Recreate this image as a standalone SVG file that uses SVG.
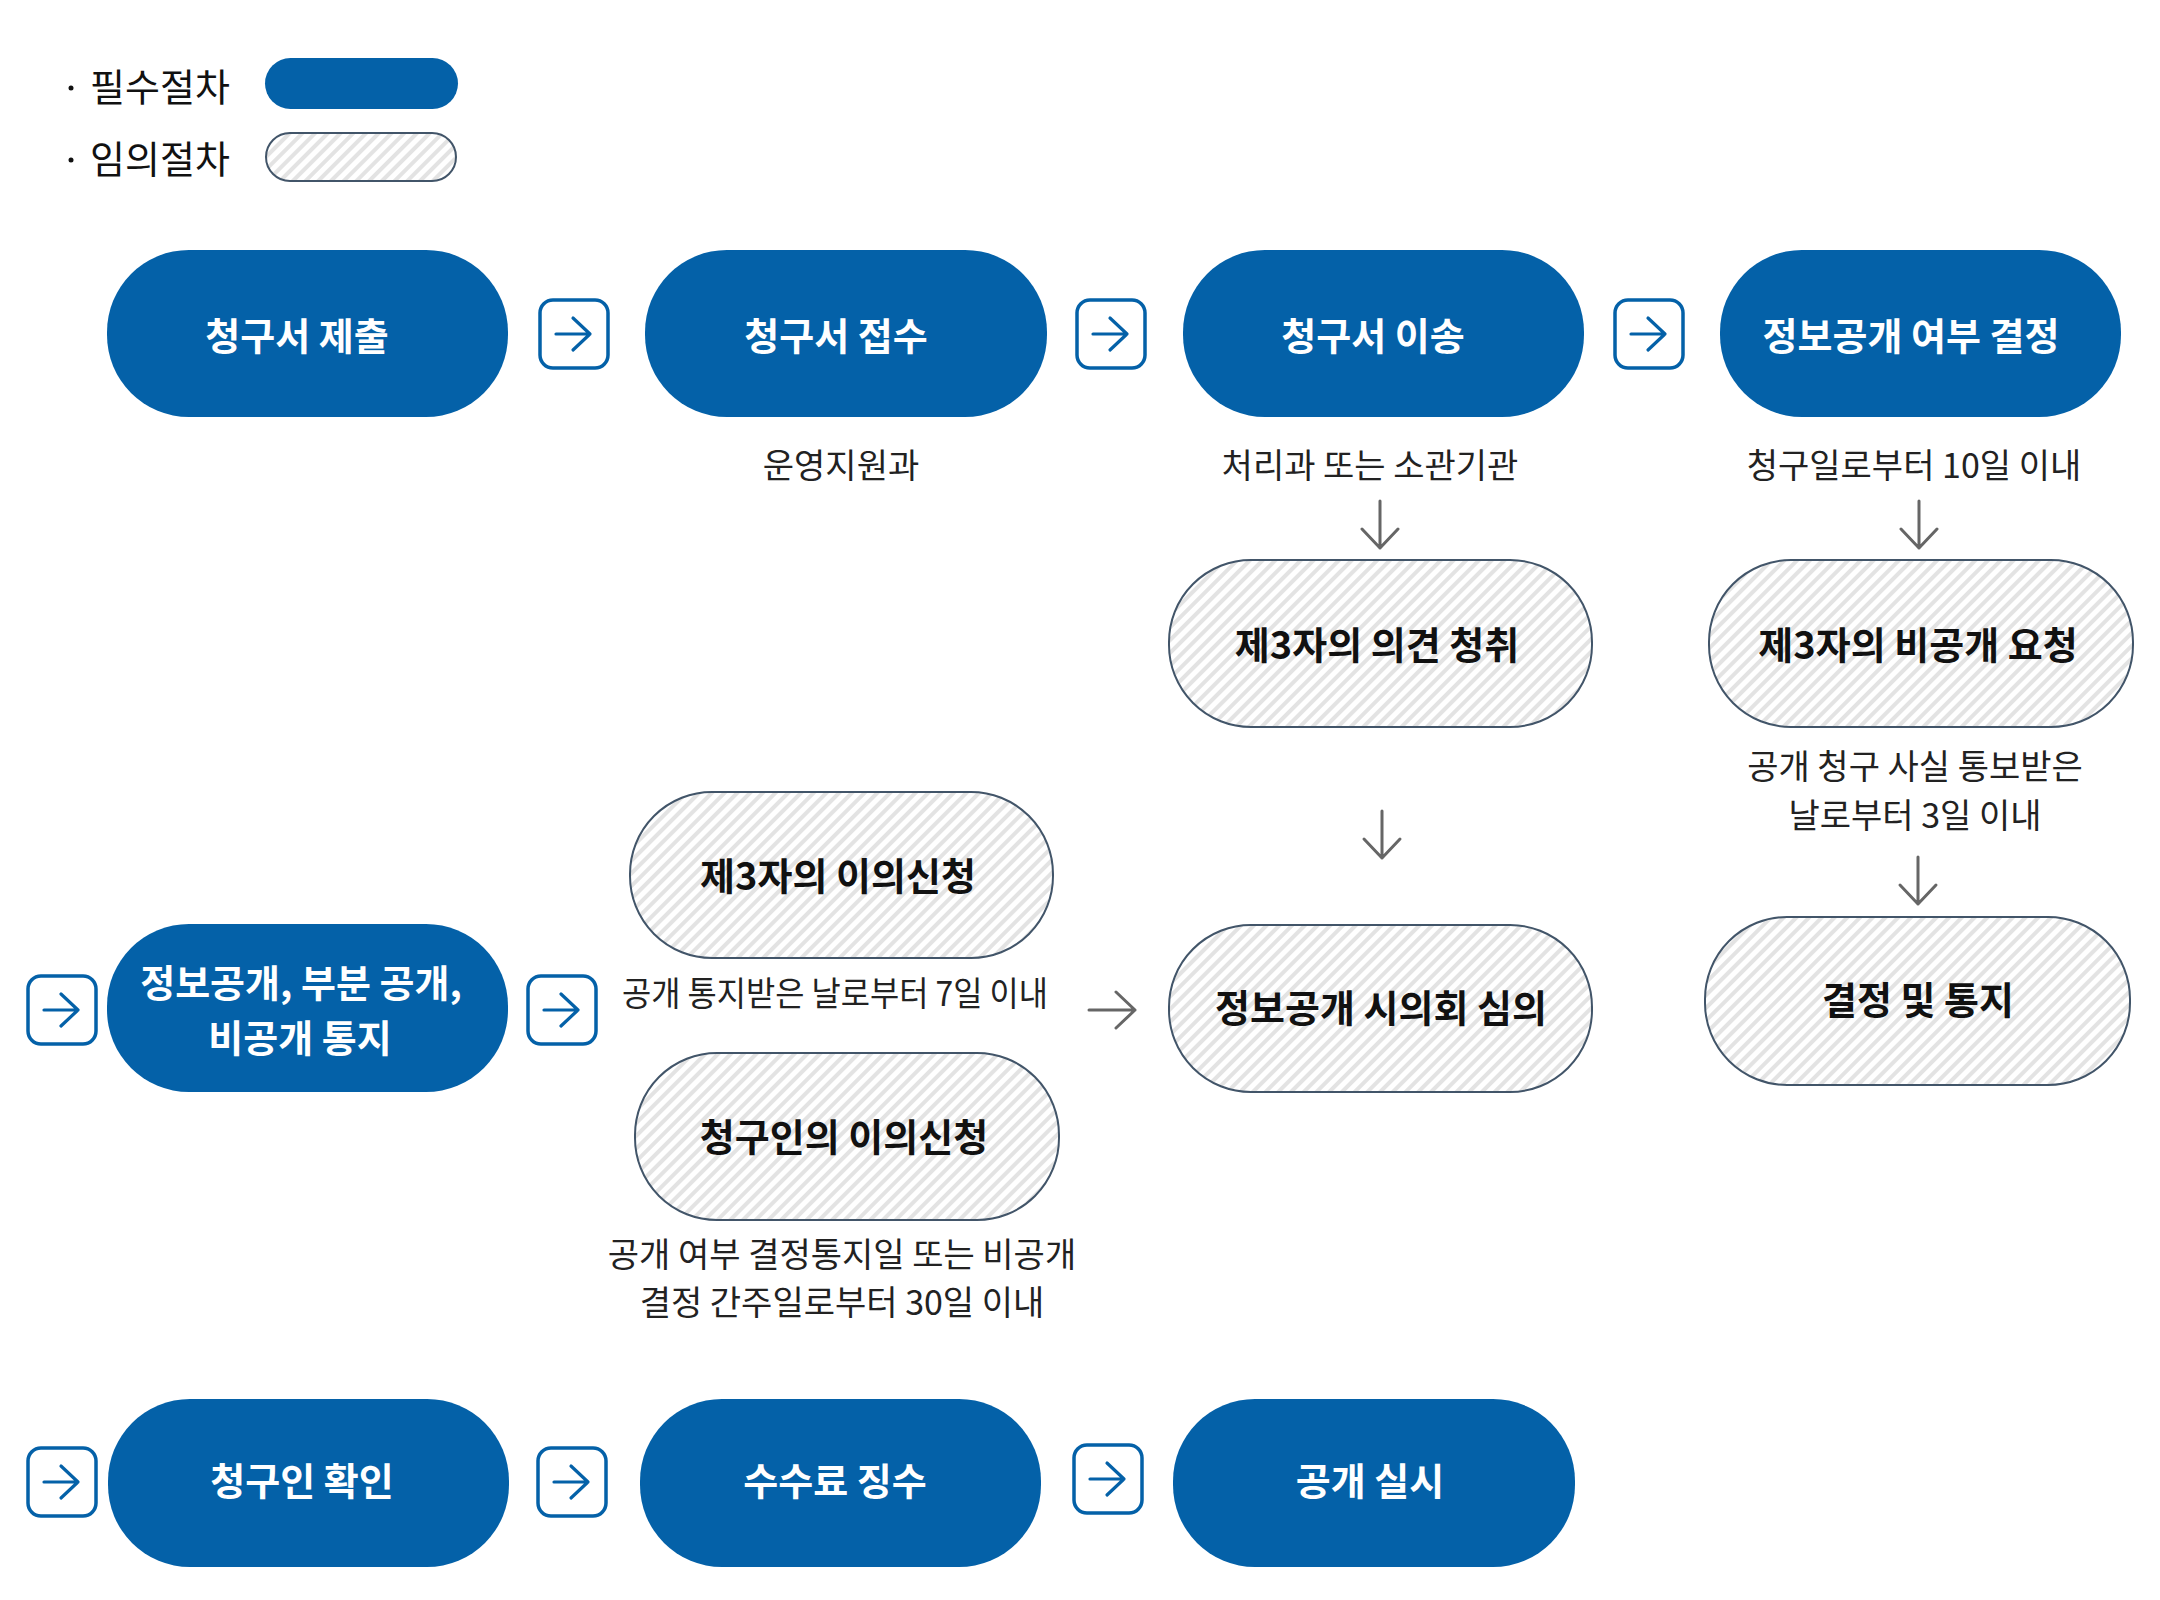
<svg xmlns="http://www.w3.org/2000/svg" width="2160" height="1600" viewBox="0 0 2160 1600">
<defs>
<pattern id="hatch" width="9" height="9" patternUnits="userSpaceOnUse" patternTransform="rotate(45)">
<rect width="9" height="9" fill="#ffffff"/>
<rect width="4" height="9" fill="#e3e3e3"/>
</pattern>
<g id="boxarrow">
<rect x="-34" y="-34" width="68" height="68" rx="13" fill="#fff" stroke="#0461a8" stroke-width="3.5"/>
<path d="M-18 0 H16 M-1 -16 L16 0 L-1 16" fill="none" stroke="#0461a8" stroke-width="3.2" stroke-linecap="round" stroke-linejoin="round"/>
</g>
<g id="down">
<path d="M0 0 V47 M-18 28 L0 47 L18 28" fill="none" stroke="#666" stroke-width="3" stroke-linecap="round" stroke-linejoin="round"/>
</g>
</defs>
<style>
.req{fill:#0461a8}
.opt{fill:url(#hatch);stroke:#425569;stroke-width:2}
.wt{font-family:"Noto Sans CJK KR","Noto Sans",sans-serif;font-weight:700;font-size:38px;fill:#ffffff;text-anchor:middle;dominant-baseline:central}
.bt{font-family:"Noto Sans CJK KR","Noto Sans",sans-serif;font-weight:700;font-size:38px;fill:#111111;text-anchor:middle;dominant-baseline:central}
.lb{font-family:"Noto Sans CJK KR","Noto Sans",sans-serif;font-weight:400;font-size:34px;fill:#222222;text-anchor:middle;dominant-baseline:central}
.lg{font-family:"Noto Sans CJK KR","Noto Sans",sans-serif;font-weight:400;font-size:38px;fill:#111111;dominant-baseline:central}
</style>
<rect width="2160" height="1600" fill="#ffffff"/>

<g id="legend">
<circle cx="71" cy="88" r="2.5" fill="#111"/>
<text class="lg" x="90" y="84">필수절차</text>
<rect class="req" x="265" y="58" width="193" height="51" rx="25.5"/>
<circle cx="71" cy="160" r="2.5" fill="#111"/>
<text class="lg" x="90" y="156">임의절차</text>
<rect class="opt" x="266" y="133" width="190" height="48" rx="24"/>
</g>

<g id="n1"><rect class="req" x="107" y="250" width="401" height="167" rx="82"/><text class="wt" x="297" y="333">청구서 제출</text></g>
<g id="n2"><rect class="req" x="645" y="250" width="402" height="167" rx="82"/><text class="wt" x="836" y="333">청구서 접수</text></g>
<g id="n3"><rect class="req" x="1183" y="250" width="401" height="167" rx="82"/><text class="wt" x="1373" y="333">청구서 이송</text></g>
<g id="n4"><rect class="req" x="1720" y="250" width="401" height="167" rx="82"/><text class="wt" x="1911" y="333">정보공개 여부 결정</text></g>

<g id="h1"><rect class="opt" x="1169" y="560" width="423" height="167" rx="82"/><text class="bt" x="1377" y="642">제3자의 의견 청취</text></g>
<g id="h2"><rect class="opt" x="1709" y="560" width="424" height="167" rx="82"/><text class="bt" x="1918" y="642">제3자의 비공개 요청</text></g>
<g id="h3"><rect class="opt" x="1169" y="925" width="423" height="167" rx="82"/><text class="bt" x="1381" y="1005">정보공개 시의회 심의</text></g>
<g id="h4"><rect class="opt" x="1705" y="917" width="425" height="168" rx="82"/><text class="bt" x="1918" y="997">결정 및 통지</text></g>
<g id="h5"><rect class="opt" x="630" y="792" width="423" height="166" rx="82"/><text class="bt" x="838" y="873">제3자의 이의신청</text></g>
<g id="h6"><rect class="opt" x="635" y="1053" width="424" height="167" rx="82"/><text class="bt" x="844" y="1134">청구인의 이의신청</text></g>

<g id="n5"><rect class="req" x="107" y="924" width="401" height="168" rx="82"/><text class="wt" x="301" y="980">정보공개, 부분 공개,</text><text class="wt" x="300" y="1035">비공개 통지</text></g>

<g id="n6"><rect class="req" x="108" y="1399" width="401" height="168" rx="82"/><text class="wt" x="302" y="1478">청구인 확인</text></g>
<g id="n7"><rect class="req" x="640" y="1399" width="401" height="168" rx="82"/><text class="wt" x="835" y="1478">수수료 징수</text></g>
<g id="n8"><rect class="req" x="1173" y="1399" width="402" height="168" rx="82"/><text class="wt" x="1370" y="1478">공개 실시</text></g>

<g id="labels">
<text class="lb" x="841" y="463">운영지원과</text>
<text class="lb" x="1370" y="463">처리과 또는 소관기관</text>
<text class="lb" x="1914" y="463">청구일로부터 10일 이내</text>
<text class="lb" x="1915" y="764">공개 청구 사실 통보받은</text>
<text class="lb" x="1915" y="813">날로부터 3일 이내</text>
<text class="lb" x="835" y="991" textLength="426" lengthAdjust="spacingAndGlyphs">공개 통지받은 날로부터 7일 이내</text>
<text class="lb" x="842" y="1252">공개 여부 결정통지일 또는 비공개</text>
<text class="lb" x="842" y="1300">결정 간주일로부터 30일 이내</text>
</g>

<g id="connectors">
<use href="#boxarrow" x="574" y="334"/>
<use href="#boxarrow" x="1111" y="334"/>
<use href="#boxarrow" x="1649" y="334"/>
<use href="#boxarrow" x="62" y="1010"/>
<use href="#boxarrow" x="562" y="1010"/>
<use href="#boxarrow" x="62" y="1482"/>
<use href="#boxarrow" x="572" y="1482"/>
<use href="#boxarrow" x="1108" y="1479"/>
<use href="#down" x="1380" y="501"/>
<use href="#down" x="1919" y="501"/>
<use href="#down" x="1382" y="811"/>
<use href="#down" x="1918" y="857"/>
<path d="M1089 1010 H1135 M1116 992 L1135 1010 L1116 1028" fill="none" stroke="#666" stroke-width="3" stroke-linecap="round" stroke-linejoin="round"/>
</g>
</svg>
